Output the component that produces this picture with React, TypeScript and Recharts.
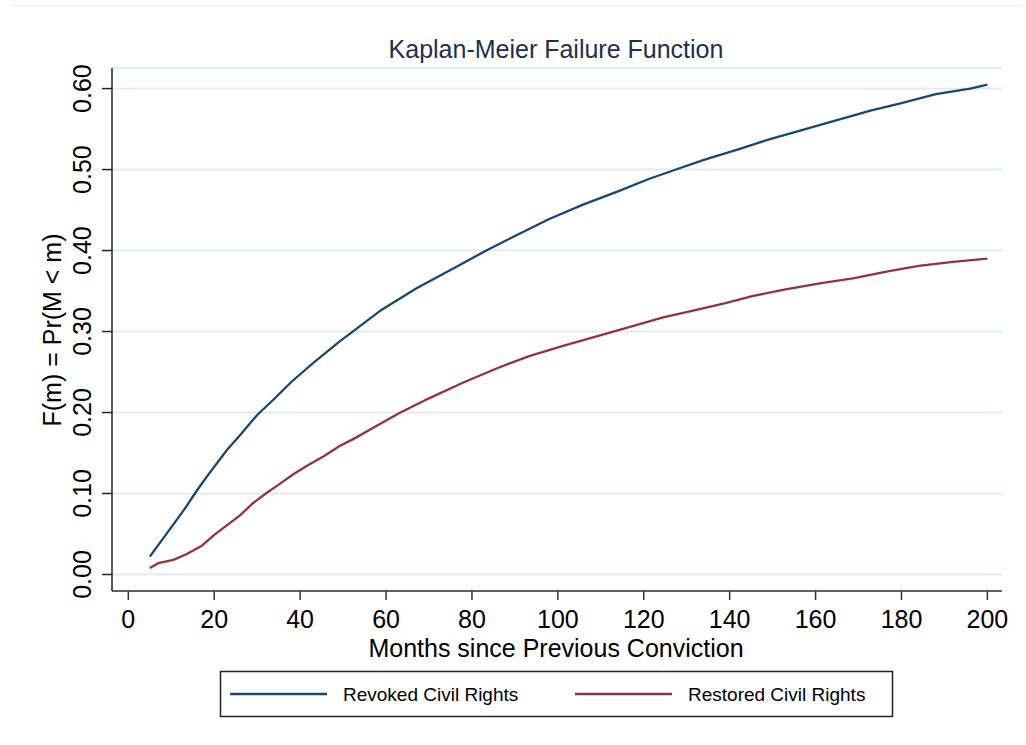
import { LineChart, Line, XAxis, YAxis, CartesianGrid } from "recharts";

// Kaplan-Meier failure estimates, F(m) by months since previous conviction
const revokedMonths = [5, 9, 13, 16, 19, 23, 26, 30, 34, 38, 43, 49, 52, 54, 59, 67, 75, 83, 90, 98, 106, 114, 121, 128, 134, 142, 149, 157, 165, 173, 180, 188, 196, 200];
const revokedFailure = [0.022, 0.051, 0.08, 0.104, 0.126, 0.154, 0.172, 0.197, 0.217, 0.238, 0.261, 0.287, 0.299, 0.307, 0.327, 0.353, 0.376, 0.399, 0.418, 0.439, 0.457, 0.473, 0.488, 0.501, 0.512, 0.525, 0.537, 0.549, 0.561, 0.573, 0.582, 0.593, 0.6, 0.605];

const restoredMonths = [5, 7, 10.5, 13.5, 17, 20, 23, 26, 29, 32, 35, 38.5, 41.5, 45.5, 49, 53, 56, 63, 70, 78, 86, 93.5, 101, 109, 117, 124.5, 132, 139, 145.5, 153, 161, 169, 176.5, 184, 192, 200];
const restoredFailure = [0.008, 0.014, 0.018, 0.025, 0.035, 0.049, 0.061, 0.073, 0.088, 0.1, 0.111, 0.124, 0.134, 0.146, 0.158, 0.169, 0.178, 0.199, 0.2175, 0.237, 0.255, 0.27, 0.282, 0.294, 0.306, 0.3175, 0.3265, 0.335, 0.344, 0.352, 0.3595, 0.366, 0.374, 0.381, 0.386, 0.39];

const X_TICKS = [0, 20, 40, 60, 80, 100, 120, 140, 160, 180, 200];
const Y_TICKS = [0, 0.1, 0.2, 0.3, 0.4, 0.5, 0.6];

const TITLE = "Kaplan-Meier Failure Function";
const X_LABEL = "Months since Previous Conviction";
const Y_LABEL = "F(m) = Pr(M < m)";

const toPoints = (months: number[], values: number[]) =>
    months.map((month, i) => ({ month, value: values[i] }));

const SERIES = [
    { name: "Revoked Civil Rights", color: "#1a476f", data: toPoints(revokedMonths, revokedFailure) },
    { name: "Restored Civil Rights", color: "#90353b", data: toPoints(restoredMonths, restoredFailure) },
];

const FONT = "'Liberation Sans', Arial, Helvetica, sans-serif";

const XTick = (props: any) => {
    const { x, y, payload } = props;
    return (
        <text x={x} y={y + 26} textAnchor="middle" fontSize={25} fontFamily={FONT} fill="#000">
            {payload.value}
        </text>
    );
};

// y tick labels run vertically, like the axis title
const YTick = (props: any) => {
    const { x, y, payload } = props;
    const bx = x - 9;
    return (
        <text
            x={bx}
            y={y}
            transform={`rotate(-90, ${bx}, ${y})`}
            textAnchor="middle"
            fontSize={25}
            fontFamily={FONT}
            fill="#000"
        >
            {Number(payload.value).toFixed(2)}
        </text>
    );
};

export default function App() {
    return (
        <div style={{ position: "absolute", left: 0, top: 0, width: 1026, height: 745, background: "#fff" }}>
            <LineChart width={1026} height={745} margin={{ top: 68, right: 24, bottom: 104, left: 52 }}>
                <CartesianGrid vertical={false} stroke="#e2ebef" strokeWidth={2} />
                <XAxis
                    type="number"
                    dataKey="month"
                    domain={[-3.8, 203.4]}
                    ticks={X_TICKS}
                    interval={0}
                    allowDataOverflow
                    height={50}
                    tickSize={9}
                    stroke="#333"
                    strokeWidth={1.5}
                    tick={XTick}
                />
                <YAxis
                    type="number"
                    dataKey="value"
                    domain={[-0.0204, 0.6254]}
                    ticks={Y_TICKS}
                    interval={0}
                    allowDataOverflow
                    width={60}
                    tickSize={10}
                    stroke="#222"
                    strokeWidth={1.5}
                    tick={YTick}
                />
                {SERIES.map((s) => (
                    <Line
                        key={s.name}
                        data={s.data}
                        dataKey="value"
                        name={s.name}
                        type="linear"
                        stroke={s.color}
                        strokeWidth={2.3}
                        dot={false}
                        isAnimationActive={false}
                    />
                ))}
            </LineChart>

            <svg
                width={1026}
                height={745}
                style={{ position: "absolute", left: 0, top: 0, pointerEvents: "none" }}
                fontFamily={FONT}
            >
                <line x1={11} x2={1023} y1={6} y2={6} stroke="#e6edf0" strokeWidth={1} />
                <text x={556} y={58} textAnchor="middle" fontSize={25} fill="#1e2f4f">
                    {TITLE}
                </text>
                <text x={556} y={657} textAnchor="middle" fontSize={25} fill="#000">
                    {X_LABEL}
                </text>
                <text x={61} y={330} transform="rotate(-90, 61, 330)" textAnchor="middle" fontSize={25} fill="#000">
                    {Y_LABEL}
                </text>

                {/* legend */}
                <rect x={220.5} y={671.5} width={672} height={45} fill="#fff" stroke="#222" strokeWidth={1.5} />
                {SERIES.map((s, i) => {
                    const x0 = i === 0 ? 230 : 575;
                    return (
                        <g key={s.name}>
                            <line x1={x0} x2={x0 + 97} y1={694} y2={694} stroke={s.color} strokeWidth={2.5} />
                            <text x={x0 + 113} y={701} fontSize={19} fill="#000">
                                {s.name}
                            </text>
                        </g>
                    );
                })}
            </svg>
        </div>
    );
}
